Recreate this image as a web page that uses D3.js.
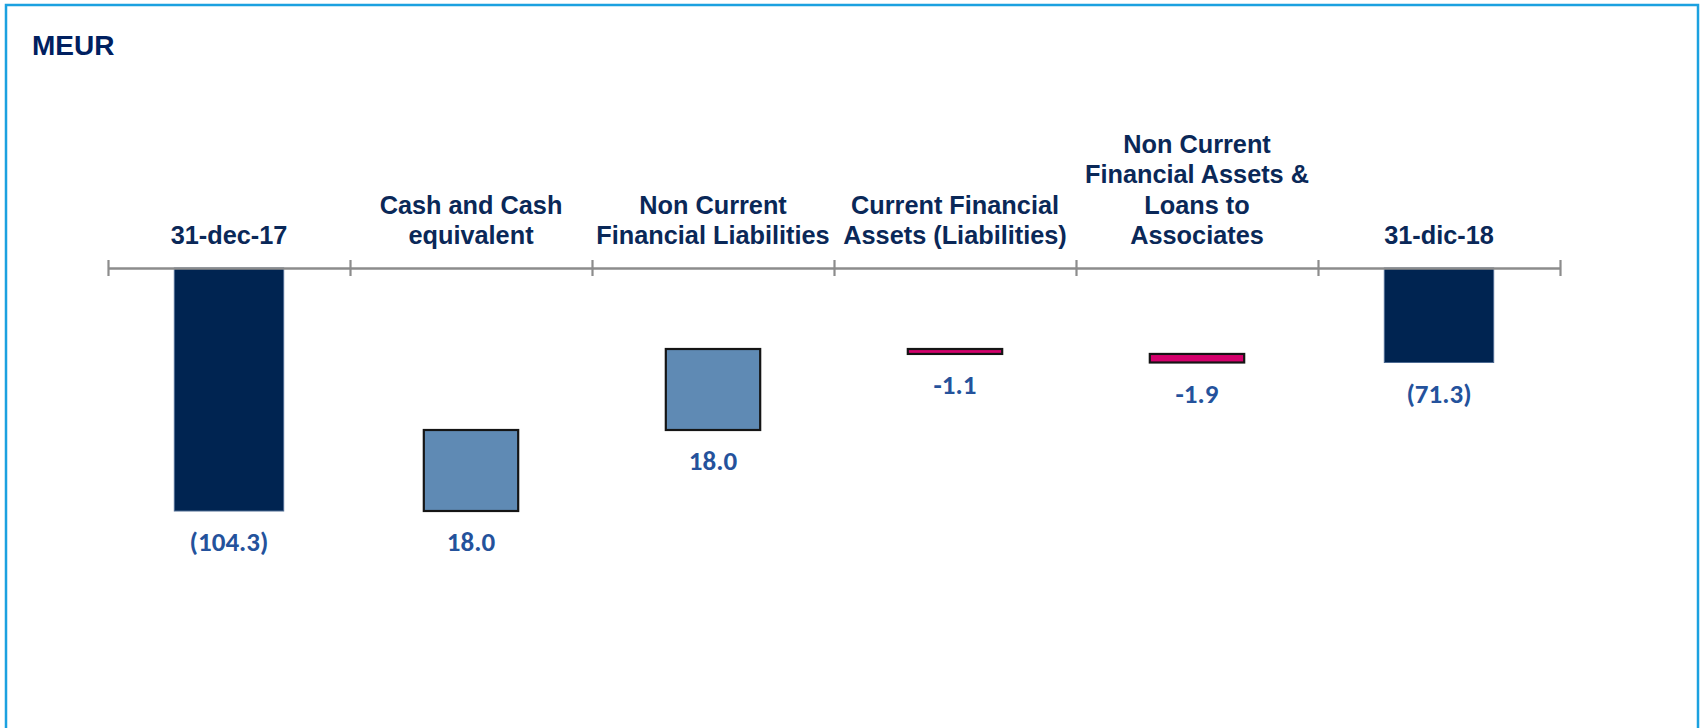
<!DOCTYPE html>
<html>
<head>
<meta charset="utf-8">
<script src="https://cdn.jsdelivr.net/npm/d3@7"></script>
<style>
  html, body { margin: 0; padding: 0; background: #fff; }
  svg { display: block; }
</style>
</head>
<body>
<div id="chart-container"></div>
<script>
// data
const categories = [
  ["31-dec-17"],
  ["Cash and Cash", "equivalent"],
  ["Non Current", "Financial Liabilities"],
  ["Current Financial", "Assets (Liabilities)"],
  ["Non Current", "Financial Assets &", "Loans to", "Associates"],
  ["31-dic-18"],
];
const values = [-104.3, 18.0, 18.0, -1.1, -1.9, -71.3];
const barTypes = ["total", "delta", "delta", "delta", "delta", "total"];
const valueLabels = ["(104.3)", "18.0", "18.0", "-1.1", "-1.9", "(71.3)"];

const w = 1701;
const h = 728;
const axisY = 268;
// the value axis is cut: the grey line sits at about -50 MEUR
const axisCut = -50.3;

const svg = d3
  .select("#chart-container")
  .append("svg")
  .attr("width", w)
  .attr("height", h);

// frame
svg
  .append("rect")
  .attr("x", 6)
  .attr("y", 5)
  .attr("width", 1692)
  .attr("height", 760)
  .attr("fill", "none")
  .attr("stroke", "#1ba1e0")
  .attr("stroke-width", 2.5);

svg
  .append("text")
  .attr("x", 32)
  .attr("y", 55)
  .attr("font-family", "Liberation Sans, Arial, sans-serif")
  .attr("font-weight", "bold")
  .attr("font-size", 28)
  .attr("fill", "#002060")
  .text("MEUR");

// scales
const xScale = d3
  .scaleBand()
  .domain(d3.range(categories.length))
  .range([108, 1560])
  .padding(0);

const yScale = d3.scaleLinear().domain([axisCut, -104.3]).range([axisY, 511]);

// waterfall steps
let running = 0;
const bars = values.map((v, i) => {
  let y0, y1;
  if (barTypes[i] === "total") {
    y0 = axisY;
    y1 = yScale(v);
    running = v;
  } else {
    y0 = yScale(running);
    y1 = yScale(running + v);
    running += v;
  }
  return { i, v, type: barTypes[i], top: Math.min(y0, y1), bottom: Math.max(y0, y1) };
});

const fillFor = (d) =>
  d.type === "total" ? "#002451" : d.v >= 0 ? "#5f8ab4" : "#d4006c";
const widthFor = (d) =>
  d.type === "total" ? xScale.bandwidth() * 0.452 : xScale.bandwidth() * 0.39;

svg
  .selectAll("rect.bar")
  .data(bars)
  .enter()
  .append("rect")
  .attr("class", "bar")
  .attr("x", (d) => xScale(d.i) + (xScale.bandwidth() - widthFor(d)) / 2)
  .attr("width", widthFor)
  .attr("y", (d) => d.top)
  .attr("height", (d) => Math.max(d.bottom - d.top, 1))
  .attr("fill", fillFor)
  .attr("stroke", (d) => (d.type === "total" ? "#4d6a92" : "#151515"))
  .attr("stroke-width", (d) => (d.type === "total" ? 1 : 2.2));

// value labels under each bar
svg
  .selectAll("text.value")
  .data(bars)
  .enter()
  .append("text")
  .attr("class", "value")
  .attr("x", (d) => xScale(d.i) + xScale.bandwidth() / 2)
  .attr("y", (d) => d.bottom + 40)
  .attr("text-anchor", "middle")
  .attr("font-family", "Carlito, Lato, sans-serif")
  .attr("font-weight", "bold")
  .attr("font-size", 27)
  .attr("fill", "#24529c")
  .text((d) => valueLabels[d.i]);

// category axis with boundary ticks
const tickScale = d3
  .scaleLinear()
  .domain([0, categories.length])
  .range(xScale.range());

const axis = svg
  .append("g")
  .attr("transform", "translate(0," + axisY + ")")
  .call(
    d3
      .axisBottom(tickScale)
      .tickValues(d3.range(categories.length + 1))
      .tickFormat("")
      .tickSizeInner(8)
      .tickSizeOuter(0)
  );
axis.select(".domain").attr("stroke", "#8c8c8c").attr("stroke-width", 2.5);
axis
  .selectAll(".tick line")
  .attr("y1", -8)
  .attr("y2", 8)
  .attr("stroke", "#8c8c8c")
  .attr("stroke-width", 2.2);

// category labels above the axis, last line on a common baseline
const lineGap = 30.5;
const labels = svg
  .selectAll("text.cat")
  .data(categories)
  .enter()
  .append("text")
  .attr("class", "cat")
  .attr("text-anchor", "middle")
  .attr("font-family", "Liberation Sans, Arial, sans-serif")
  .attr("font-weight", "bold")
  .attr("font-size", 25.3)
  .attr("fill", "#0a2858");

labels.each(function (lines, i) {
  const cx = xScale(i) + xScale.bandwidth() / 2;
  d3.select(this)
    .selectAll("tspan")
    .data(lines)
    .enter()
    .append("tspan")
    .attr("x", cx)
    .attr("y", (d, k) => 244 - (lines.length - 1 - k) * lineGap)
    .text((d) => d);
});
</script>
</body>
</html>
